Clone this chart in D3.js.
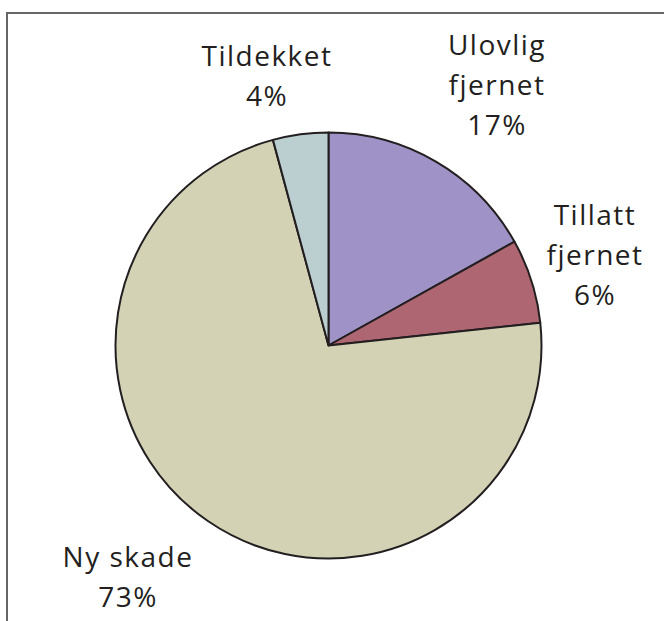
<!DOCTYPE html>
<html>
<head>
<meta charset="utf-8">
<script src="https://cdn.jsdelivr.net/npm/d3@7"></script>
<style>
  html, body { margin: 0; padding: 0; background: #fff; }
  svg { display: block; }
  .lbl { font-family: "Open Sans", "DejaVu Sans", sans-serif; font-size: 28px; fill: #231f20; letter-spacing: 1.5px; }
</style>
</head>
<body>
<div id="chart"></div>
<script>
// slices, clockwise from 12 o'clock
var categories = ["Ulovlig fjernet", "Tillatt fjernet", "Ny skade", "Tildekket"];
var labelLines = [["Ulovlig", "fjernet"], ["Tillatt", "fjernet"], ["Ny skade"], ["Tildekket"]];
var values = [16.9, 6.4, 72.5, 4.2];
var percentLabels = ["17%", "6%", "73%", "4%"];
var sliceColors = ["#9f92c6", "#ae6672", "#d3d2b5", "#bccfd0"];

var width = 664, height = 621;
var cx = 328.5, cy = 345.5, radius = 213;

// where each label block sits (center x, first baseline y)
var labelAnchors = [[497, 55], [595, 225], [128, 567], [267, 66]];
var lineGap = 40;

var svg = d3.select("#chart").append("svg")
    .attr("width", width)
    .attr("height", height);

// chart frame, only left and top are inside the picture
svg.append("path")
    .attr("d", "M7," + (height + 5) + "V13H" + (width + 5))
    .attr("fill", "none")
    .attr("stroke", "#666")
    .attr("stroke-width", 2);

var pie = d3.pie().sort(null).value(function (d) { return d; });
var arc = d3.arc().innerRadius(0).outerRadius(radius);

var g = svg.append("g").attr("transform", "translate(" + cx + "," + cy + ")");

g.selectAll("path.slice")
    .data(pie(values))
    .enter()
    .append("path")
    .attr("class", "slice")
    .attr("d", arc)
    .attr("fill", function (d, i) { return sliceColors[i]; })
    .attr("stroke", "#231f20")
    .attr("stroke-width", 2)
    .attr("stroke-linejoin", "round")
    .append("title")
    .text(function (d, i) { return categories[i]; });

// labels: name lines, percent underneath
labelLines.forEach(function (lines, i) {
    var all = lines.concat([percentLabels[i]]);
    var t = svg.append("text")
        .attr("class", "lbl")
        .attr("text-anchor", "middle");
    all.forEach(function (ln, j) {
        t.append("tspan")
            .attr("x", labelAnchors[i][0])
            .attr("y", labelAnchors[i][1] + j * lineGap)
            .text(ln);
    });
});
</script>
</body>
</html>
